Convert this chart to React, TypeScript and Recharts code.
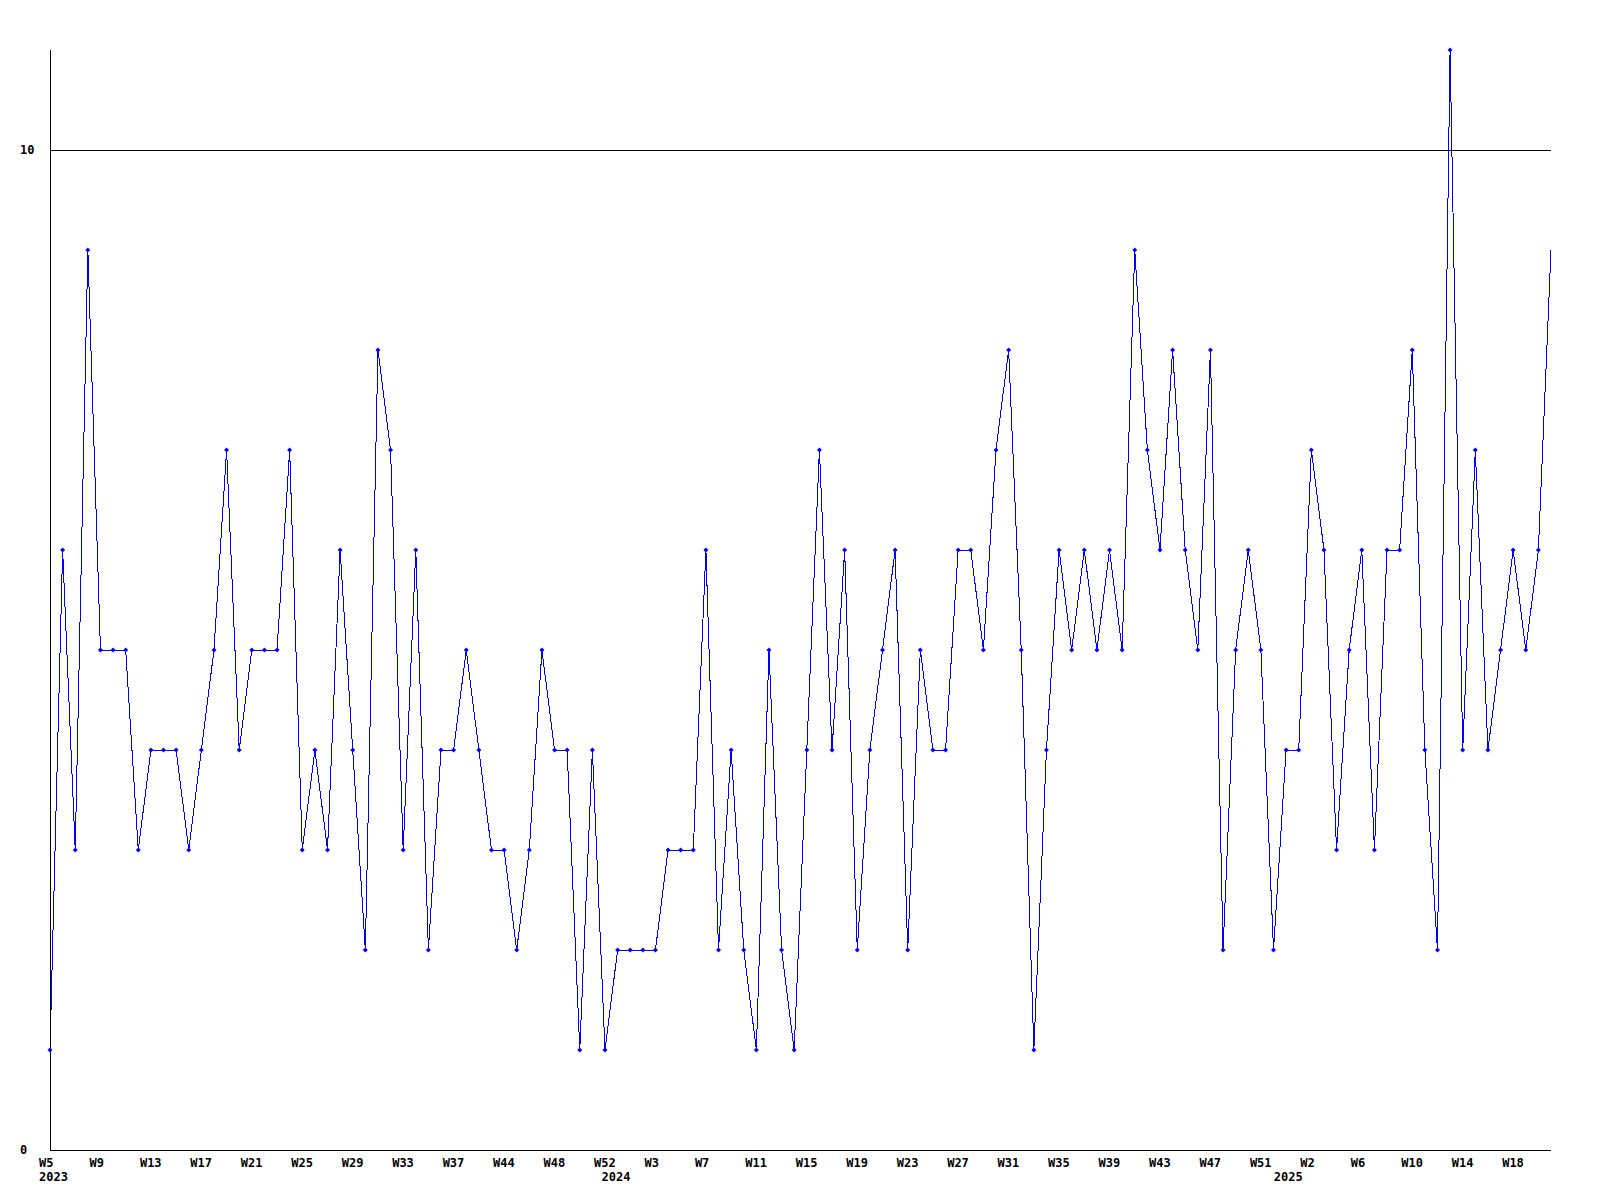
import { LineChart, Line, XAxis, YAxis, ReferenceLine } from "recharts";

// weekly counts, 2023 W5 .. 2025
const VALUES = [
  1, 6, 3, 9, 5, 5, 5, 3, 4, 4,
  4, 3, 4, 5, 7, 4, 5, 5, 5, 7,
  3, 4, 3, 6, 4, 2, 8, 7, 3, 6,
  2, 4, 4, 5, 4, 3, 3, 2, 3, 5,
  4, 4, 1, 4, 1, 2, 2, 2, 2, 3,
  3, 3, 6, 2, 4, 2, 1, 5, 2, 1,
  4, 7, 4, 6, 2, 4, 5, 6, 2, 5,
  4, 4, 6, 6, 5, 7, 8, 5, 1, 4,
  6, 5, 6, 5, 6, 5, 9, 7, 6, 8,
  6, 5, 8, 2, 5, 6, 5, 2, 4, 4,
  7, 6, 3, 5, 6, 3, 6, 6, 8, 4,
  2, 11, 4, 7, 4, 5, 6, 5, 6, 9,
];

// one label every 4th point
const WEEK_LABELS = [
  "W5", "W9", "W13", "W17", "W21", "W25", "W29", "W33", "W37", "W44",
  "W48", "W52", "W3", "W7", "W11", "W15", "W19", "W23", "W27", "W31",
  "W35", "W39", "W43", "W47", "W51", "W2", "W6", "W10", "W14", "W18",
];
const WEEK_STEP = 4;

const YEAR_LABELS = ["2023", "2024", "2025"];
const YEAR_POS = [0, 44.6, 97.9];

const Y_TICKS = [0, 10];

const data = VALUES.map((v, i) => ({ i, v }));
const weekPos = WEEK_LABELS.map((_, k) => k * WEEK_STEP);
const xTicks = Array.from(new Set([...weekPos, ...YEAR_POS])).sort((a, b) => a - b);

const FONT = "'DejaVu Sans Mono', monospace";
const FS = 12;

function XTick({ x, y, payload }: any) {
  const v = payload.value;
  const w = weekPos.indexOf(v);
  const yr = YEAR_POS.indexOf(v);
  return (
    <g>
      {w >= 0 && (
        <text x={x - 11} y={y + 17} textAnchor="start" fontSize={FS} fontWeight="bold" fontFamily={FONT} fill="#000">
          {WEEK_LABELS[w]}
        </text>
      )}
      {yr >= 0 && (
        <text x={x - 11} y={y + 31} textAnchor="start" fontSize={FS} fontWeight="bold" fontFamily={FONT} fill="#000">
          {YEAR_LABELS[yr]}
        </text>
      )}
    </g>
  );
}

function YTick({ x, y, payload }: any) {
  return (
    <text x={x - 30} y={y + 4} textAnchor="start" fontSize={FS} fontWeight="bold" fontFamily={FONT} fill="#000">
      {payload.value}
    </text>
  );
}

function Dot({ cx, cy, index }: any) {
  if (index === VALUES.length - 1) return <g key={index} />;
  return (
    <path
      key={index}
      d={`M${cx},${cy - 2.5}L${cx + 2.5},${cy}L${cx},${cy + 2.5}L${cx - 2.5},${cy}Z`}
      fill="#0000ff"
      stroke="none"
    />
  );
}

export default function App() {
  return (
    <div style={{ position: "absolute", left: 0, top: 0, width: 1600, height: 1200, background: "#fff" }}>
      <LineChart width={1600} height={1200} data={data} margin={{ top: 50, right: 49, bottom: 0, left: 0 }}>
        <XAxis
          dataKey="i"
          type="number"
          domain={[0, VALUES.length - 1]}
          ticks={xTicks}
          interval={0}
          tick={<XTick />}
          tickLine={false}
          tickSize={0}
          tickMargin={0}
          height={50}
          axisLine={{ stroke: "#000", strokeWidth: 1, shapeRendering: "crispEdges" }}
        />
        <YAxis
          type="number"
          domain={[0, 11]}
          ticks={Y_TICKS}
          interval={0}
          tick={<YTick />}
          tickLine={false}
          tickSize={0}
          tickMargin={0}
          width={50}
          axisLine={{ stroke: "#000", strokeWidth: 1, shapeRendering: "crispEdges" }}
        />
        <ReferenceLine y={10} stroke="#000" strokeWidth={1} shapeRendering="crispEdges" />
        <Line
          type="linear"
          dataKey="v"
          stroke="#0000ff"
          strokeWidth={1}
          dot={<Dot />}
          activeDot={false}
          isAnimationActive={false}
          shapeRendering="crispEdges"
        />
      </LineChart>
    </div>
  );
}
